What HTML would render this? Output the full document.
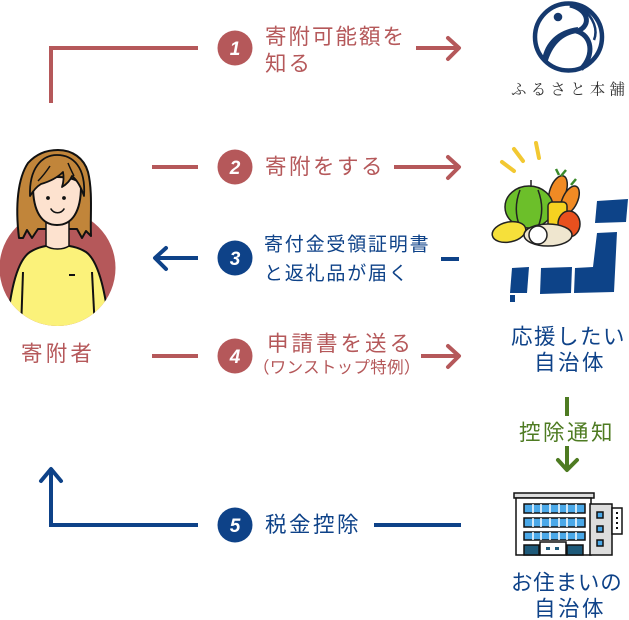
<!DOCTYPE html>
<html><head><meta charset="utf-8">
<style>
html,body{margin:0;padding:0;background:#fff;}
body{width:629px;height:620px;overflow:hidden;position:relative;}
svg{position:absolute;left:0;top:0;}
text{font-family:"Liberation Sans","Noto Sans CJK JP",sans-serif;}
.num{font-family:"Liberation Sans",sans-serif;font-weight:bold;font-style:italic;fill:#fff;font-size:19px;}
</style></head>
<body>
<svg width="629" height="620" viewBox="0 0 629 620" xmlns="http://www.w3.org/2000/svg">
<defs>
<clipPath id="cc"><circle cx="57.5" cy="268" r="58"/></clipPath>
</defs>

<!-- ===== connectors ===== -->
<g stroke="#b5585a" stroke-width="4" fill="none" stroke-linecap="square">
  <polyline points="51,101 51,48 196,48"/>
  <line x1="418" y1="48" x2="458" y2="48"/>
  <polyline points="448,38 459,48 448,59" stroke-linecap="round" stroke-linejoin="round"/>
  <line x1="154" y1="167" x2="196" y2="167"/>
  <line x1="396" y1="167" x2="458" y2="167"/>
  <polyline points="448,157 459,167 448,178" stroke-linecap="round" stroke-linejoin="round"/>
  <line x1="154" y1="356" x2="196" y2="356"/>
  <line x1="423" y1="356" x2="458" y2="356"/>
  <polyline points="448,346 459,356 448,367" stroke-linecap="round" stroke-linejoin="round"/>
</g>
<g stroke="#0e4288" stroke-width="4" fill="none" stroke-linecap="square">
  <line x1="156" y1="258" x2="196" y2="258"/>
  <polyline points="166,248 155,258 166,269" stroke-linecap="round" stroke-linejoin="round"/>
  <line x1="443" y1="259" x2="457" y2="259"/>
  <polyline points="51,470 51,525 196,525"/>
  <polyline points="41,481 51,469 61,481" stroke-linecap="round" stroke-linejoin="round"/>
  <line x1="376" y1="525" x2="459" y2="525"/>
</g>

<!-- number circles -->
<circle cx="235" cy="48" r="17.5" fill="#b5585a"/>
<text class="num" x="235" y="55" text-anchor="middle">1</text>
<circle cx="235" cy="167" r="17.5" fill="#b5585a"/>
<text class="num" x="235" y="174" text-anchor="middle">2</text>
<circle cx="235" cy="258" r="17.5" fill="#0e4288"/>
<text class="num" x="235" y="265" text-anchor="middle">3</text>
<circle cx="235" cy="356" r="17.5" fill="#b5585a"/>
<text class="num" x="235" y="363" text-anchor="middle">4</text>
<circle cx="235" cy="525" r="17.5" fill="#0e4288"/>
<text class="num" x="235" y="532" text-anchor="middle">5</text>

<!-- labels -->
<g fill="#b5585a" font-size="21.5" dominant-baseline="central">
  <text x="265" y="37" letter-spacing="2">寄附可能額を</text>
  <text x="265" y="64" letter-spacing="2">知る</text>
  <text x="265" y="167" letter-spacing="2.5">寄附をする</text>
  <text x="267" y="344" letter-spacing="3">申請書を送る</text>
  <text x="253" y="368" font-size="16.5" letter-spacing="0.3">（ワンストップ特例）</text>
  <text x="21" y="354" letter-spacing="3.2">寄附者</text>
</g>
<g fill="#0e4288" dominant-baseline="central">
  <text x="264" y="245" font-size="19" letter-spacing="1.8">寄付金受領証明書</text>
  <text x="264" y="274" font-size="19" letter-spacing="1.8">と返礼品が届く</text>
  <text x="265" y="525" font-size="21.5" letter-spacing="2.5">税金控除</text>
  <text x="511" y="337" font-size="21.5" letter-spacing="1.5">応援したい</text>
  <text x="534" y="363" font-size="21.5" letter-spacing="2.5">自治体</text>
  <text x="511" y="583" font-size="21.5" letter-spacing="0.8">お住まいの</text>
  <text x="534" y="609" font-size="21.5" letter-spacing="2.5">自治体</text>
</g>
<g stroke="#4e7b22" stroke-width="4" fill="none">
  <line x1="567" y1="397" x2="567" y2="416"/>
  <line x1="567" y1="446" x2="567" y2="470"/>
  <polyline points="558,460 567,470 577,460" stroke-linecap="round" stroke-linejoin="round"/>
</g>
<text x="519" y="433" font-size="21.5" letter-spacing="2.5" fill="#4e7b22" dominant-baseline="central">控除通知</text>

<!-- ===== Logo ===== -->
<circle cx="568.5" cy="37" r="33.5" fill="none" stroke="#15396e" stroke-width="4.5"/>
<circle cx="558" cy="17" r="4.3" fill="#15396e"/>
<path d="M542,60 C545,42 557,30 578,27 L577,33 C563,35 552,45 547,64 Z" fill="#15396e"/>
<path d="M570,5 C588,9 592,25 578,31" fill="none" stroke="#15396e" stroke-width="5"/>
<path d="M576,31 C592,35 595,55 581,69" fill="none" stroke="#15396e" stroke-width="5"/>
<path d="M582,8 C594,18 598,30 594,40" fill="none" stroke="#15396e" stroke-width="2.5"/>
<text x="511" y="90" font-size="15.5" letter-spacing="4.2" fill="#333" dominant-baseline="central" style="font-family:'Liberation Serif','Noto Serif CJK SC',serif;">ふるさと本舗</text>

<!-- ===== Person ===== -->
<circle cx="57.5" cy="268" r="58" fill="#b5585a"/>
<!-- hair back -->
<path d="M19,238 C15,205 18,178 28,163 C38,152 50,150 58,150 C72,150 84,158 88,172 C93,192 90,218 91,236 L86,231 L82,238 L77,229 L38,229 L32,238 L27,230 L23,238 Z" fill="#c1853a" stroke="#111" stroke-width="2" stroke-linejoin="round"/>
<!-- body -->
<g clip-path="url(#cc)">
  <path d="M6,330 C10,298 15,262 30,252 C38,247 46,245 57,245 C68,245 78,247 86,252 C100,262 106,298 110,330 Z" fill="#fbf27a" stroke="#111" stroke-width="2"/>
  <path d="M23,272 L21,330" stroke="#111" stroke-width="2"/>
  <path d="M92,272 L95,330" stroke="#111" stroke-width="2"/>
</g>
<!-- neck -->
<path d="M46,218 L46,246 C52,250 63,250 69,246 L69,218 Z" fill="#fde2cf" stroke="#111" stroke-width="1.5"/>
<!-- face -->
<path d="M33,186 C33,212 42,225 57,225 C72,225 81,212 81,186 C81,174 33,174 33,186 Z" fill="#fde2cf" stroke="#111" stroke-width="2"/>
<!-- bangs -->
<path d="M30,196 C29,168 42,155 57,155 C73,155 86,167 84,196 C81,187 77,180 72,176 C70,181 67,184 62,187 C64,181 64,177 63,172 C57,178 48,182 41,184 C36,187 33,191 30,196 Z" fill="#c1853a" stroke="#111" stroke-width="1.8" stroke-linejoin="round"/>
<path d="M50,166 C46,172 42,177 38,181 M68,163 C70,168 72,172 74,176" stroke="#111" stroke-width="1.5" fill="none"/>
<circle cx="48" cy="198" r="1.9" fill="#111"/>
<circle cx="64" cy="198" r="1.9" fill="#111"/>
<path d="M51,209 C54,214 61,214 64,209" fill="none" stroke="#111" stroke-width="1.6" stroke-linecap="round"/>
<rect x="69" y="274" width="6" height="2" fill="#111"/>

<!-- ===== Vegetables ===== -->
<g stroke="#f2c832" stroke-width="4" stroke-linecap="round">
  <line x1="502" y1="162" x2="514" y2="171"/>
  <line x1="514" y1="149" x2="523" y2="161"/>
  <line x1="536" y1="143" x2="539" y2="158"/>
</g>
<g stroke="#222" stroke-width="1.5">
  <ellipse cx="558" cy="191" rx="8" ry="16" transform="rotate(20 558 191)" fill="#f08a24"/>
  <ellipse cx="570" cy="200" rx="7.5" ry="15" transform="rotate(25 570 200)" fill="#f08a24"/>
  <path d="M559,175 L556,169 M561,176 L566,170 M571,185 L576,179" stroke="#3a8a2a" stroke-width="2.5"/>
  <ellipse cx="529" cy="207" rx="24" ry="21" fill="#6cbf2a"/>
  <path d="M520,190 C515,203 515,215 520,227 M538,190 C543,203 543,215 538,227" fill="none"/>
  <line x1="531" y1="187" x2="531" y2="180"/>
  <rect x="548" y="202" width="19" height="26" rx="4" fill="#f5d220"/>
  <ellipse cx="569" cy="224" rx="11" ry="13" fill="#e8501e"/>
  <ellipse cx="509" cy="232" rx="17" ry="10" transform="rotate(-12 509 232)" fill="#f6e03a"/>
  <ellipse cx="548" cy="235" rx="24" ry="11" fill="#efe6cf"/>
  <circle cx="538" cy="235" r="9" fill="#fff"/>
</g>

<!-- ===== Japan map ===== -->
<g fill="#0d4388">
  <polygon points="597,201 628,199 626,222 595,223"/>
  <polygon points="597,233 617,232 614,292 574,293 575,268 593,267"/>
  <polygon points="541,268 572,267 571,293 540,294"/>
  <polygon points="512,268 529,267 527,293 510,293"/>
  <rect x="510" y="295" width="5" height="7"/>
</g>

<!-- ===== Building ===== -->
<g stroke="#111" stroke-width="1.5">
  <rect x="514" y="493" width="80" height="5" fill="#ddd"/>
  <rect x="516" y="498" width="75" height="57" fill="#fff"/>
  <rect x="590" y="504" width="22" height="51" fill="#ddd"/>
  <rect x="612" y="508" width="10" height="26" fill="#fff"/>
  <rect x="524" y="504" width="61" height="9" fill="#4aa8e8"/>
  <rect x="524" y="518" width="61" height="9" fill="#4aa8e8"/>
  <rect x="524" y="532" width="61" height="8" fill="#4aa8e8"/>
  <rect x="524" y="545" width="15" height="10" fill="#1e5a7a"/>
  <rect x="567" y="545" width="16" height="10" fill="#1e5a7a"/>
  <rect x="540" y="542" width="26" height="13" fill="#fff"/>
  <rect x="597" y="512" width="6" height="6" fill="#4aa8e8"/>
  <rect x="597" y="526" width="6" height="6" fill="#4aa8e8"/>
  <rect x="597" y="540" width="6" height="6" fill="#4aa8e8"/>
</g>
<g stroke="#fff" stroke-width="1.5">
  <line x1="533" y1="504" x2="533" y2="513"/><line x1="541" y1="504" x2="541" y2="513"/><line x1="550" y1="504" x2="550" y2="513"/><line x1="559" y1="504" x2="559" y2="513"/><line x1="567" y1="504" x2="567" y2="513"/><line x1="576" y1="504" x2="576" y2="513"/>
  <line x1="533" y1="518" x2="533" y2="527"/><line x1="541" y1="518" x2="541" y2="527"/><line x1="550" y1="518" x2="550" y2="527"/><line x1="559" y1="518" x2="559" y2="527"/><line x1="567" y1="518" x2="567" y2="527"/><line x1="576" y1="518" x2="576" y2="527"/>
  <line x1="533" y1="532" x2="533" y2="540"/><line x1="541" y1="532" x2="541" y2="540"/><line x1="550" y1="532" x2="550" y2="540"/><line x1="559" y1="532" x2="559" y2="540"/><line x1="567" y1="532" x2="567" y2="540"/><line x1="576" y1="532" x2="576" y2="540"/>
</g>
<rect x="546" y="547" width="4" height="3" fill="#1e5a7a"/>
<rect x="555" y="547" width="4" height="3" fill="#1e5a7a"/>
<g fill="#111"><rect x="616" y="512" width="2" height="2"/><rect x="616" y="517" width="2" height="2"/><rect x="616" y="522" width="2" height="2"/><rect x="616" y="527" width="2" height="2"/></g>
</svg>
</body></html>
